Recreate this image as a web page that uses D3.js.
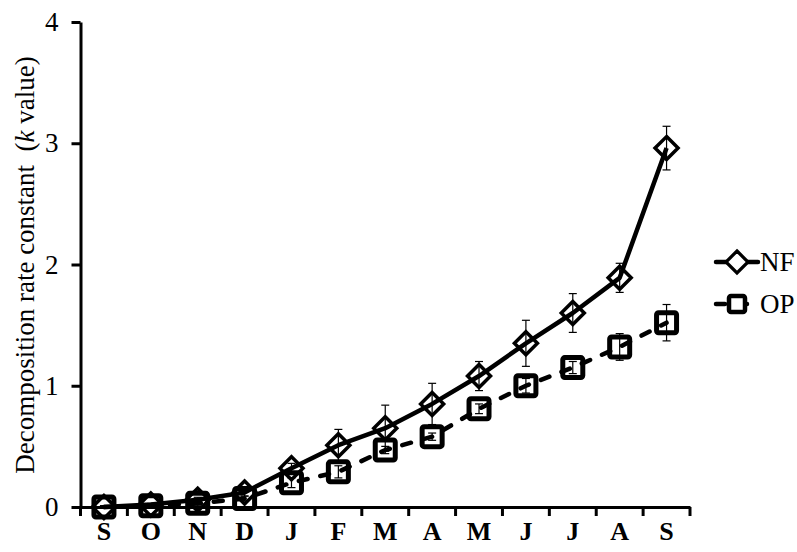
<!DOCTYPE html>
<html>
<head>
<meta charset="utf-8">
<script src="https://cdn.jsdelivr.net/npm/d3@7/dist/d3.min.js"></script>
<style>
  html, body { margin: 0; padding: 0; background: #fff; }
  svg { display: block; }
</style>
</head>
<body>
<svg id="chart" width="797" height="552"></svg>
<script>
// Sampling months (September to September)
const months = ["S", "O", "N", "D", "J", "F", "M", "A", "M", "J", "J", "A", "S"];

// Decomposition rate constant (k) with standard errors
const nfValues = [0, 0.02, 0.06, 0.12, 0.32, 0.51, 0.65, 0.85, 1.08, 1.35, 1.60, 1.89, 2.96];
const nfErrors = [0.01, 0.01, 0.02, 0.03, 0.04, 0.13, 0.19, 0.17, 0.12, 0.19, 0.16, 0.12, 0.18];
const opValues = [0, 0.01, 0.03, 0.07, 0.20, 0.29, 0.47, 0.58, 0.81, 1.00, 1.15, 1.32, 1.52];
const opErrors = [0.01, 0.01, 0.02, 0.02, 0.04, 0.05, 0.03, 0.03, 0.04, 0.06, 0.05, 0.11, 0.15];

const yTicks = [0, 1, 2, 3, 4];
const seriesNames = ["NF", "OP"];

const svg = d3.select("#chart");
const serif = "'Liberation Serif', 'Times New Roman', serif";

const x = d3.scaleBand()
  .domain(d3.range(months.length))
  .range([80.5, 690])
  .paddingInner(0)
  .paddingOuter(0);

const y = d3.scaleLinear().domain([0, 4]).range([507, 22]);

const cx = i => x(i) + x.bandwidth() / 2;

// ---- Y axis ----
const yAxis = svg.append("g")
  .attr("transform", `translate(${x.range()[0]},0)`)
  .call(d3.axisLeft(y).tickValues(yTicks).tickFormat(d3.format("d"))
    .tickSize(9).tickSizeOuter(0).tickPadding(13));
yAxis.select(".domain").attr("stroke", "#000").attr("stroke-width", 3);
yAxis.selectAll(".tick line").attr("stroke", "#000").attr("stroke-width", 3);
yAxis.selectAll(".tick text")
  .attr("font-family", serif).attr("font-size", 27).attr("fill", "#000");

// ---- X axis ----
const xAxis = svg.append("g")
  .attr("transform", `translate(0,${y(0)})`)
  .call(d3.axisBottom(x).tickSize(0).tickSizeOuter(0).tickPadding(15).tickFormat(i => months[i]));
xAxis.select(".domain").attr("stroke", "#000").attr("stroke-width", 3);
xAxis.selectAll(".tick text")
  .attr("font-family", serif).attr("font-size", 26).attr("font-weight", "bold").attr("fill", "#000");

// Tick marks on category boundaries
const bounds = x.domain().map(i => x(i)).concat([x.range()[1]]);
svg.append("g").selectAll("line")
  .data(bounds)
  .join("line")
  .attr("x1", d => d).attr("x2", d => d)
  .attr("y1", y(0)).attr("y2", y(0) + 9)
  .attr("stroke", "#000").attr("stroke-width", 3);

// ---- Y axis title ----
const title = svg.append("text")
  .attr("transform", "translate(34,265) rotate(-90)")
  .attr("text-anchor", "middle")
  .attr("font-family", serif).attr("font-size", 27).attr("fill", "#000");
title.append("tspan").text("Decomposition rate constant\u00a0\u00a0(");
title.append("tspan").attr("font-style", "italic").text("k");
title.append("tspan").text(" value)");

// ---- Series ----
const line = d3.line().x((d, i) => cx(i)).y(d => y(d));

function errorBars(values, errors) {
  const g = svg.append("g").attr("stroke", "#000").attr("stroke-width", 1.2);
  values.forEach((v, i) => {
    const top = y(v + errors[i]), bot = y(Math.max(0, v - errors[i]));
    g.append("line").attr("x1", cx(i)).attr("x2", cx(i)).attr("y1", top).attr("y2", bot);
    g.append("line").attr("x1", cx(i) - 4).attr("x2", cx(i) + 4).attr("y1", top).attr("y2", top);
    g.append("line").attr("x1", cx(i) - 4).attr("x2", cx(i) + 4).attr("y1", bot).attr("y2", bot);
  });
}

const diamond = (px, py, r) => `M${px},${py - r}L${px + r},${py}L${px},${py + r}L${px - r},${py}Z`;

// OP (dashed, squares)
errorBars(opValues, opErrors);
svg.append("path")
  .datum(opValues)
  .attr("d", line)
  .attr("fill", "none").attr("stroke", "#000").attr("stroke-width", 4.5)
  .attr("stroke-dasharray", "9,13").attr("stroke-linecap", "round");
svg.append("g").selectAll("rect")
  .data(opValues)
  .join("rect")
  .attr("x", (d, i) => cx(i) - 10).attr("y", d => y(d) - 10)
  .attr("width", 20).attr("height", 20).attr("rx", 2)
  .attr("fill", "none").attr("stroke", "#000").attr("stroke-width", 5);

// NF (solid, diamonds)
errorBars(nfValues, nfErrors);
svg.append("path")
  .datum(nfValues)
  .attr("d", line)
  .attr("fill", "none").attr("stroke", "#000").attr("stroke-width", 4.5)
  .attr("stroke-linejoin", "round");
svg.append("g").selectAll("path")
  .data(nfValues)
  .join("path")
  .attr("d", (d, i) => diamond(cx(i), y(d), 11.5))
  .attr("fill", "none").attr("stroke", "#000").attr("stroke-width", 3.5);

// ---- Legend ----
const legend = svg.append("g");
const legendRows = [262, 304];
seriesNames.forEach((name, k) => {
  const ly = legendRows[k];
  legend.append("line")
    .attr("x1", 716).attr("x2", 758).attr("y1", ly).attr("y2", ly)
    .attr("stroke", "#000").attr("stroke-width", 4.5)
    .attr("stroke-dasharray", k === 0 ? null : "9,13").attr("stroke-linecap", "round");
  if (k === 0) {
    legend.append("path").attr("d", diamond(737, ly, 11))
      .attr("fill", "#fff").attr("stroke", "#000").attr("stroke-width", 3.2);
  } else {
    legend.append("rect").attr("x", 729).attr("y", ly - 8).attr("width", 16).attr("height", 16).attr("rx", 2)
      .attr("fill", "#fff").attr("stroke", "#000").attr("stroke-width", 4.5);
  }
  legend.append("text")
    .attr("x", 760).attr("y", ly + 9)
    .attr("font-family", serif).attr("font-size", 27).attr("fill", "#000")
    .text(name);
});
</script>
</body>
</html>
